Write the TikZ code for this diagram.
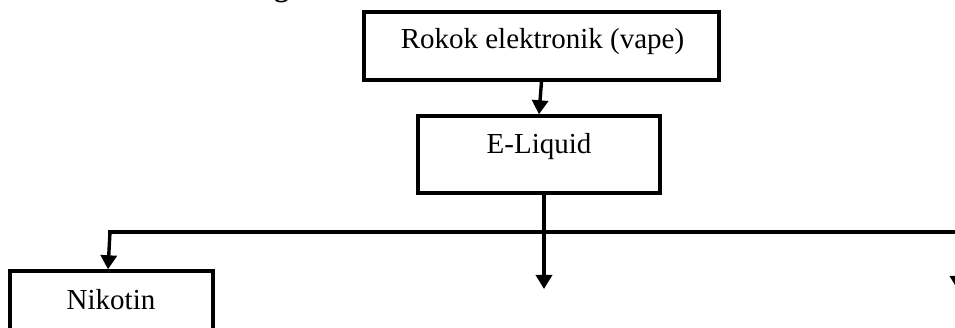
\documentclass[tikz,border=0pt]{standalone}
\usepackage{fontspec}
\setmainfont{Liberation Serif}
\usetikzlibrary{arrows.meta}
\tikzset{
  box/.style={draw=black, line width=3.4pt, rectangle, inner sep=0pt},
  lbl/.style={anchor=base, inner sep=0pt, font=\fontsize{29}{34}\selectfont},
  conn/.style={draw=black, line width=3.4pt},
  arr/.style={conn, -{Triangle[width=16pt,length=14pt]}},
}
\begin{document}
\begin{tikzpicture}[x=1pt,y=-1pt]
\useasboundingbox (0,0) rectangle (955,328);
\clip (0,0) rectangle (955,328);
% cropped heading fragment
\node[lbl, font=\fontsize{29}{34}\selectfont\bfseries] (head) at (281.5,-3.5) {g};
% boxes
\node[box, minimum width=355pt, minimum height=68pt] (vape) at (541.5,46) {};
\node[box, minimum width=242pt, minimum height=77pt] (eliquid) at (539,154.5) {};
\node[box, minimum width=203pt, minimum height=90pt] (nikotin) at (111.5,316) {};
% texts
\node[lbl] (tvape) at (542.5,49) {Rokok elektronik (vape)};
\node[lbl] (teliq) at (539,154) {E-Liquid};
\node[lbl] (tnik) at (111,310) {Nikotin};
% connector coordinates
\coordinate (jl) at (110,232);
\coordinate (jr) at (958,232);
\coordinate (mid) at (544,289);
\coordinate (rt) at (958,290);
% connectors
\draw[arr] (vape.south) -- (eliquid.north);
\draw[arr] ([xshift=5pt]eliquid.south) -- (mid);
\draw[conn, line cap=rect] (jl) -- (jr);
\draw[arr] (jl) -- ([xshift=-3.5pt]nikotin.north);
\draw[arr] (jr) -- (rt);
\end{tikzpicture}
\end{document}
